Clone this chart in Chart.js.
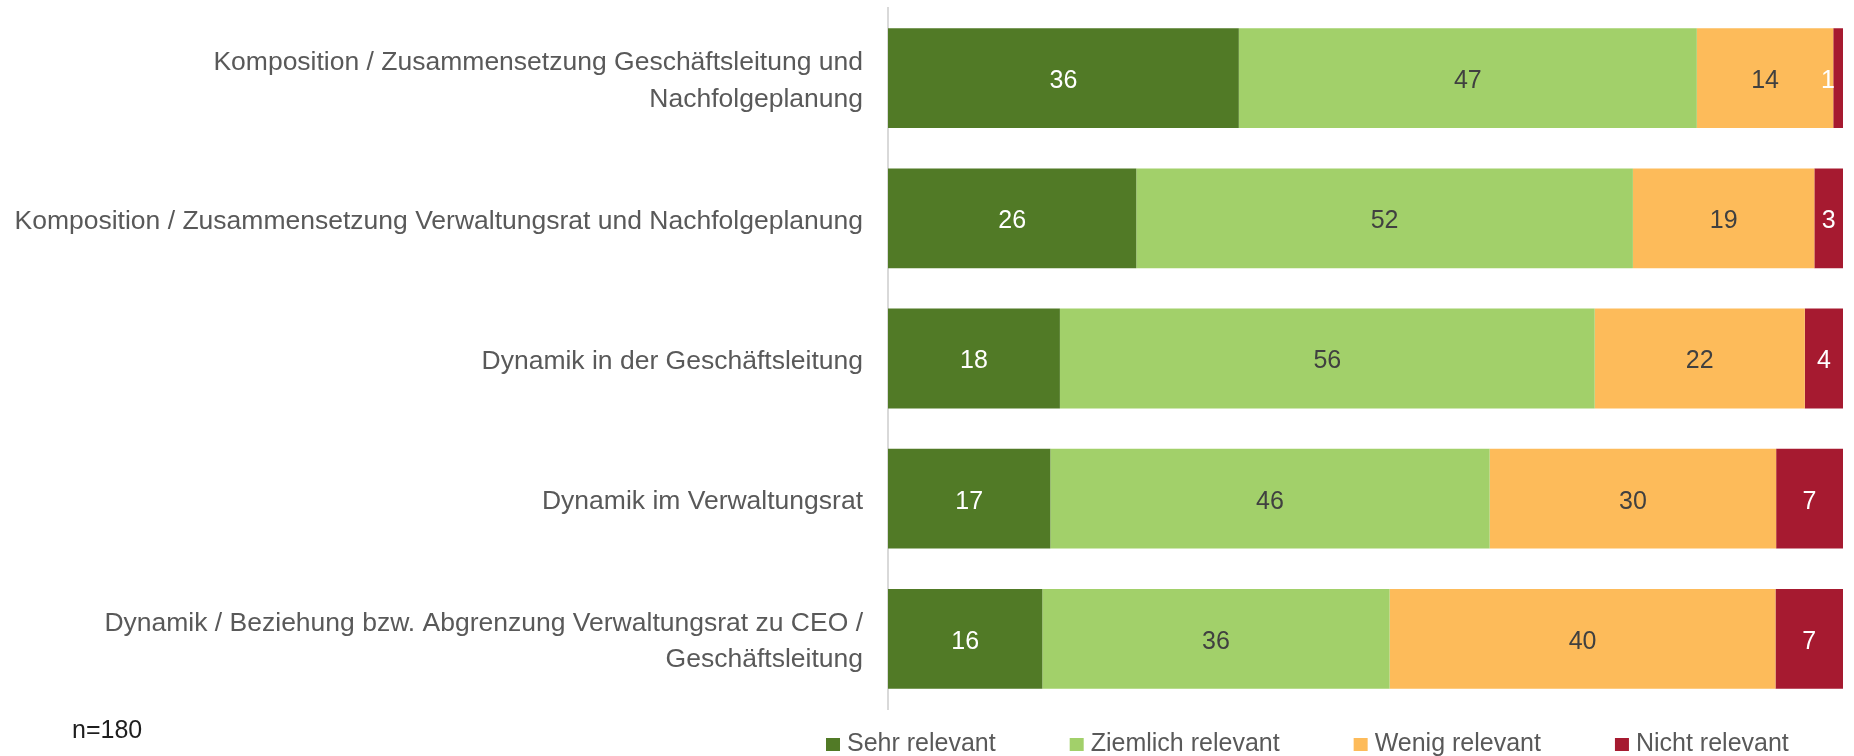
<!DOCTYPE html>
<html>
<head>
<meta charset="utf-8">
<script src="https://cdn.jsdelivr.net/npm/chart.js@4.4.0/dist/chart.umd.min.js"></script>
<style>
html,body{margin:0;padding:0;background:#fff;}
#wrap{width:1854px;height:756px;position:relative;}
canvas{display:block;}
</style>
</head>
<body>
<div id="wrap"><canvas id="c" width="1854" height="756"></canvas></div>
<script>
// ---- data ----
const categories = [
  ["Komposition / Zusammensetzung Geschäftsleitung und", "Nachfolgeplanung"],
  "Komposition / Zusammensetzung Verwaltungsrat und Nachfolgeplanung",
  "Dynamik in der Geschäftsleitung",
  "Dynamik im Verwaltungsrat",
  ["Dynamik / Beziehung bzw. Abgrenzung Verwaltungsrat zu CEO /", "Geschäftsleitung"]
];
const seriesNames = ["Sehr relevant", "Ziemlich relevant", "Wenig relevant", "Nicht relevant"];
const sehrRelevant     = [36, 26, 18, 17, 16];
const ziemlichRelevant = [47, 52, 56, 46, 36];
const wenigRelevant    = [14, 19, 22, 30, 40];
const nichtRelevant    = [1, 3, 4, 7, 7];
const sampleNote = "n=180";

// ---- styles ----
const seriesColors = ["#517a26", "#a2d06a", "#fdbb5a", "#a61a30"];
const labelColors  = ["#ffffff", "#404040", "#404040", "#ffffff"];
const FONT = '"Liberation Sans", Arial, sans-serif';

const seriesValues = [sehrRelevant, ziemlichRelevant, wenigRelevant, nichtRelevant];
const rowTotals = categories.map((_, i) => seriesValues.reduce((s, arr) => s + arr[i], 0));

const datasets = seriesValues.map((vals, k) => ({
  label: seriesNames[k],
  data: vals.map((v, i) => v / rowTotals[i] * 100),
  raw: vals,
  backgroundColor: seriesColors[k],
  labelColor: labelColors[k],
  borderWidth: 0,
  categoryPercentage: 1,
  barPercentage: 0.712
}));

const valueLabels = {
  id: 'valueLabels',
  afterDatasetsDraw(chart) {
    const ctx = chart.ctx;
    ctx.save();
    ctx.font = '25px ' + FONT;
    ctx.textAlign = 'center';
    ctx.textBaseline = 'middle';
    chart.data.datasets.forEach((ds, di) => {
      const meta = chart.getDatasetMeta(di);
      meta.data.forEach((bar, i) => {
        const txt = String(ds.raw[i]);
        const c = bar.getCenterPoint();
        const w = ctx.measureText(txt).width;
        const bw = Math.abs(bar.x - bar.base);
        let cx = c.x;
        if (w > bw) cx = Math.min(cx, chart.chartArea.right - w / 2 - 8);
        ctx.fillStyle = ds.labelColor;
        ctx.fillText(txt, cx, c.y + 3);
      });
    });
    ctx.restore();
  }
};

const customLegend = {
  id: 'customLegend',
  afterDraw(chart) {
    const ctx = chart.ctx;
    ctx.save();
    ctx.font = '25px ' + FONT;
    ctx.textAlign = 'left';
    ctx.textBaseline = 'alphabetic';
    let x = 826;
    const baseY = 751;
    chart.data.datasets.forEach(ds => {
      ctx.fillStyle = ds.backgroundColor;
      ctx.fillRect(x, baseY - 13, 14, 13);
      x += 21;
      ctx.fillStyle = '#595959';
      ctx.fillText(ds.label, x, baseY);
      x += ctx.measureText(ds.label).width + 74;
    });
    ctx.fillStyle = '#1e1e1e';
    ctx.fillText(sampleNote, 72, 738);
    ctx.restore();
  }
};

new Chart(document.getElementById('c'), {
  type: 'bar',
  data: { labels: categories, datasets },
  options: {
    indexAxis: 'y',
    responsive: false,
    animation: false,
    devicePixelRatio: 1,
    layout: { padding: { left: 0, right: 11, top: 8, bottom: 47 } },
    plugins: { legend: { display: false }, tooltip: { enabled: false } },
    scales: {
      x: { stacked: true, min: 0, max: 100, display: false },
      y: {
        stacked: true,
        grid: { display: false, drawTicks: false },
        border: { display: true, color: '#d9d9d9', width: 2 },
        ticks: {
          color: '#595959',
          font: { family: FONT, size: 26.5, lineHeight: 1.38 },
          padding: 25,
          labelOffset: 3,
          autoSkip: false
        },
        afterFit(s) { s.width = 888; s.paddingTop = 0; s.paddingBottom = 0; }
      }
    }
  },
  plugins: [valueLabels, customLegend]
});
</script>
</body>
</html>
